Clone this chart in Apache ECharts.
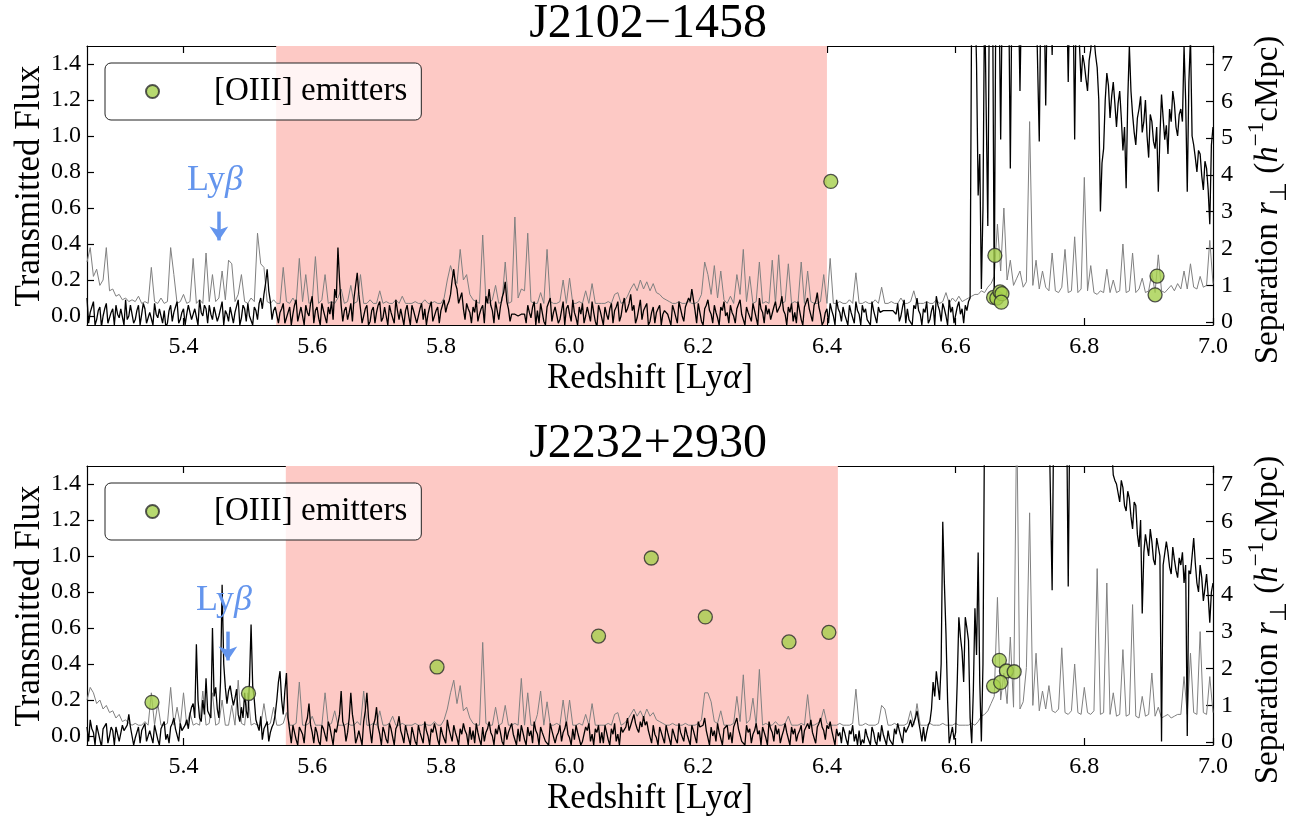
<!DOCTYPE html>
<html>
<head>
<meta charset="utf-8">
<script src="https://cdn.jsdelivr.net/npm/echarts@6/dist/echarts.min.js"></script>
<style>
  html, body { margin: 0; padding: 0; background: #ffffff; }
  #chart { width: 1296px; height: 819px; }
</style>
</head>
<body>
<div id="chart"></div>
<script>
// Redshift grids: flux is sampled twice as finely as its error
const Z_START = 5.25;
const FLUX_STEP = 0.0025;
const ERR_STEP = 0.005;

// J2102-1458: transmitted flux (black)
const fluxJ2102 = [
  0.10,-0.04, 0.02,0.05, 0.08,-0.05, -0.02,0.03, 0.05,-0.06, 0.00,0.04, 0.07,-0.04, -0.03,0.02, 0.04,-0.05, 0.06,0.01, -0.01,0.04, 0.03,-0.05, 0.09,-0.02, 0.00,0.06, 0.05,-0.04, -0.02,0.03, 0.06,-0.05, 0.01,0.07, 0.04,-0.04, -0.03,0.02,
  0.02,-0.05, 0.07,0.01, -0.01,0.04, 0.05,-0.04, 0.03,-0.06, -0.04,0.03, 0.06,-0.03, 0.02,0.05, 0.08,-0.04, -0.02,0.02, 0.04,-0.05, 0.01,0.06, 0.07,-0.02, -0.03,0.04, 0.05,-0.05, 0.09,0.02, 0.00,0.06, 0.04,-0.04, 0.06,0.01, -0.02,0.05,
  0.05,-0.03, 0.00,0.04, 0.08,-0.05, 0.03,0.01, -0.03,0.05, 0.06,-0.04, 0.02,0.03, 0.09,-0.05, -0.01,0.06, 0.04,-0.03, 0.07,0.00, 0.01,-0.05, 0.05,0.03, -0.02,0.07, 0.10,0.04, 0.12,0.18, 0.26,0.14, 0.08,-0.02, 0.03,0.05, 0.06,-0.04,
  0.02,0.04, 0.07,-0.04, -0.03,0.02, 0.05,-0.05, 0.01,0.06, 0.09,-0.03, -0.02,0.05, 0.04,-0.05, 0.06,0.02, 0.00,0.07, 0.11,-0.04, 0.03,0.05, -0.01,-0.05, 0.07,0.03, 0.02,-0.04, 0.05,0.01, 0.08,-0.02, 0.15,0.10, 0.38,0.20, 0.06,-0.03,
  0.03,0.05, -0.02,0.02, 0.07,-0.03, 0.10,0.17, 0.24,0.12, 0.04,-0.04, 0.00,0.04, 0.06,-0.05, -0.03,0.03, 0.05,-0.04, 0.02,0.06, 0.08,-0.03, -0.01,0.05, 0.04,-0.05, 0.06,0.02, 0.01,-0.04, 0.09,0.03, -0.02,0.04, 0.05,-0.05, 0.03,0.06,
  0.00,-0.05, 0.06,0.03, 0.02,-0.04, -0.03,0.04, 0.07,-0.02, 0.04,-0.05, 0.01,0.05, 0.08,-0.03, -0.02,0.03, 0.05,-0.04, 0.03,0.06, 0.09,0.02, 0.06,0.08, 0.12,0.20, 0.26,0.18, 0.15,0.07, 0.10,0.13, 0.04,-0.02, 0.07,0.04, 0.02,-0.04,
  0.05,0.02, 0.09,-0.03, 0.01,0.04, 0.06,-0.04, 0.11,0.07, 0.15,0.06, 0.03,-0.04, 0.08,0.03, -0.02,0.05, 0.10,0.13, 0.19,0.08, 0.04,-0.03, 0.01,0.01, 0.01,0.00, 0.00,0.01, 0.01,0.01, 0.01,-0.04, 0.06,0.02, -0.01,0.05, 0.08,-0.05,
  0.03,-0.04, 0.07,0.02, -0.03,-0.05, 0.05,0.04, 0.10,-0.03, 0.02,0.05, 0.06,-0.04, -0.02,0.03, 0.08,-0.05, 0.04,0.06, 0.01,-0.03, 0.09,0.02, -0.01,-0.05, 0.05,0.01, 0.07,-0.04, 0.00,0.05, 0.04,-0.03, 0.08,0.02, -0.03,-0.06, 0.06,0.03,
  0.02,-0.05, 0.05,0.01, -0.02,0.04, 0.07,-0.04, 0.03,0.05, 0.08,-0.03, 0.00,0.06, 0.10,0.02, 0.04,0.07, 0.12,0.03, 0.06,-0.04, -0.01,0.04, 0.09,-0.02, 0.03,0.05, 0.07,-0.05, -0.03,0.02, 0.05,-0.04, 0.02,0.04, 0.06,-0.05, 0.01,0.03,
  0.04,0.01, -0.02,-0.05, 0.06,0.03, 0.02,-0.04, 0.08,0.04, 0.00,-0.03, 0.05,0.06, 0.10,0.08, 0.15,0.09, 0.03,-0.04, 0.07,0.02, -0.03,-0.05, 0.04,0.06, 0.09,0.03, 0.01,-0.04, 0.06,0.02, -0.01,-0.05, 0.05,0.03, 0.08,0.00, 0.02,-0.04,
  0.06,0.02, 0.00,-0.04, 0.04,0.05, 0.09,0.01, -0.02,-0.05, 0.05,0.02, 0.03,-0.03, 0.07,0.03, -0.01,-0.05, 0.10,0.04, 0.02,-0.04, 0.06,0.01, 0.04,-0.02, -0.03,0.05, 0.08,0.02, 0.03,0.06, 0.11,0.03, 0.01,-0.05, 0.05,0.02, 0.07,-0.03,
  0.02,-0.04, 0.08,0.03, -0.02,-0.05, 0.05,0.06, 0.10,0.04, 0.03,-0.03, 0.06,0.08, 0.13,0.05, 0.01,-0.05, -0.03,0.02, 0.04,-0.04, 0.07,0.03, 0.00,-0.05, 0.09,0.04, 0.02,-0.03, 0.05,0.01, -0.02,-0.05, 0.06,0.02, 0.03,-0.04, 0.08,0.03,
  0.01,-0.05, 0.06,0.02, 0.04,-0.02, -0.03,-0.05, 0.08,0.03, 0.02,-0.04, 0.05,0.02, 0.03,0.03, 0.03,0.03, 0.04,0.03, 0.03,0.03, 0.02,0.01, 0.07,-0.03, 0.00,0.05, 0.09,-0.04, 0.04,-0.02, -0.02,-0.05, 0.06,0.04, 0.10,0.03, 0.01,-0.05,
  0.04,0.02, 0.08,-0.04, -0.02,0.03, 0.06,-0.05, 0.11,0.06, 0.03,-0.03, 0.07,0.04, 0.00,-0.05, 0.09,0.02, 0.05,-0.04, -0.03,0.05, 0.08,0.01, 0.04,-0.04, 0.06,0.03, 0.08,0.10, 1.80,1.80, 1.80,1.40, 0.67,0.90, 0.15,0.60, 1.80,1.80,
  0.50,1.80, 1.80,1.80, 0.10,1.80, 1.80,1.80, 0.98,1.80, 1.80,1.80, 1.80,1.80, 0.82,1.80, 1.80,1.80, 1.80,1.80, 1.25,1.80, 1.80,1.80, 1.80,1.60, 1.80,1.80, 1.80,1.80, 1.80,1.80, 0.97,1.80, 1.80,1.80, 1.17,1.80, 1.80,1.80,
  1.45,1.80, 1.80,1.80, 1.80,1.80, 1.80,1.80, 1.80,1.80, 1.30,1.80, 1.80,1.80, 0.98,1.80, 1.80,1.50, 1.30,1.45, 1.40,1.32, 1.25,1.42, 1.48,1.60, 1.55,1.45, 1.38,1.20, 0.58,0.85, 0.93,1.20, 1.35,1.28, 1.10,1.22, 1.30,1.18,
  1.05,1.18, 1.25,1.10, 0.92,1.05, 0.71,1.20, 1.50,1.25, 1.12,1.02, 0.95,1.10, 1.15,1.22, 1.02,1.08, 1.20,1.00, 0.88,1.12, 1.08,0.97, 0.93,1.05, 0.69,1.00, 1.23,1.10, 0.98,1.06, 0.90,1.15, 1.08,1.25, 1.18,1.05, 1.00,1.12,
  1.15,1.08, 1.50,1.20, 0.69,1.30, 1.55,1.00, 0.95,0.88, 0.80,0.92, 0.90,0.78, 0.70,0.86, 0.82,0.70, 0.51,0.95, 1.05
];
// J2102-1458: flux error (grey)
const errJ2102 = [
  0.30, 0.38, 0.22, 0.26, 0.17, 0.20, 0.38, 0.14, 0.15, 0.11, 0.12, 0.09, 0.10, 0.08, 0.09, 0.08, 0.11, 0.07, 0.08, 0.07,
  0.27, 0.08, 0.07, 0.10, 0.07, 0.08, 0.38, 0.23, 0.07, 0.08, 0.12, 0.07, 0.08, 0.32, 0.07, 0.09, 0.07, 0.35, 0.08, 0.23,
  0.08, 0.10, 0.25, 0.09, 0.31, 0.29, 0.08, 0.12, 0.23, 0.08, 0.07, 0.10, 0.08, 0.46, 0.29, 0.27, 0.08, 0.07, 0.09, 0.07,
  0.07, 0.27, 0.08, 0.07, 0.10, 0.07, 0.32, 0.08, 0.23, 0.07, 0.08, 0.33, 0.07, 0.09, 0.23, 0.07, 0.08, 0.07, 0.10, 0.15,
  0.07, 0.08, 0.17, 0.07, 0.08, 0.23, 0.07, 0.07, 0.09, 0.07, 0.07, 0.14, 0.07, 0.08, 0.07, 0.07, 0.09, 0.07, 0.11, 0.07,
  0.07, 0.07, 0.08, 0.07, 0.07, 0.09, 0.07, 0.07, 0.08, 0.07, 0.07, 0.10, 0.20, 0.28, 0.22, 0.18, 0.37, 0.20, 0.23, 0.12,
  0.09, 0.08, 0.07, 0.45, 0.08, 0.07, 0.09, 0.17, 0.07, 0.08, 0.30, 0.07, 0.08, 0.55, 0.10, 0.15, 0.14, 0.46, 0.08, 0.07,
  0.07, 0.13, 0.07, 0.37, 0.08, 0.07, 0.07, 0.08, 0.20, 0.07, 0.21, 0.07, 0.07, 0.08, 0.07, 0.14, 0.07, 0.18, 0.07, 0.07,
  0.07, 0.07, 0.08, 0.07, 0.12, 0.13, 0.07, 0.08, 0.11, 0.15, 0.18, 0.14, 0.20, 0.15, 0.19, 0.14, 0.18, 0.13, 0.12, 0.10,
  0.09, 0.08, 0.07, 0.07, 0.08, 0.07, 0.07, 0.08, 0.07, 0.07, 0.08, 0.12, 0.30, 0.23, 0.12, 0.28, 0.10, 0.25, 0.09, 0.07,
  0.11, 0.07, 0.23, 0.12, 0.37, 0.08, 0.22, 0.07, 0.08, 0.30, 0.07, 0.08, 0.07, 0.31, 0.07, 0.34, 0.07, 0.08, 0.29, 0.07,
  0.08, 0.07, 0.30, 0.07, 0.25, 0.08, 0.07, 0.07, 0.08, 0.23, 0.07, 0.32, 0.07, 0.07, 0.08, 0.07, 0.07, 0.09, 0.07, 0.24,
  0.07, 0.07, 0.08, 0.07, 0.07, 0.09, 0.07, 0.16, 0.07, 0.07, 0.08, 0.07, 0.07, 0.10, 0.07, 0.07, 0.08, 0.14, 0.07, 0.07,
  0.07, 0.08, 0.07, 0.07, 0.09, 0.07, 0.08, 0.13, 0.07, 0.10, 0.08, 0.11, 0.08, 0.09, 0.10, 0.11, 0.12, 0.12, 0.14, 0.13,
  0.16, 0.18, 0.22, 0.51, 0.25, 0.60, 0.20, 0.31, 0.17, 0.21, 0.25, 0.16, 0.19, 1.08, 0.17, 0.31, 0.15, 0.25, 0.16, 0.14,
  0.35, 0.14, 0.13, 0.16, 0.37, 0.13, 0.14, 0.44, 0.13, 0.15, 0.77, 0.14, 0.28, 0.13, 0.12, 0.14, 0.13, 0.26, 0.13, 0.20,
  0.13, 0.14, 0.40, 0.13, 0.14, 0.35, 0.13, 0.15, 0.21, 0.13, 0.14, 0.24, 0.13, 0.34, 0.14, 0.13, 0.15, 0.17, 0.14, 0.18,
  0.15, 0.25, 0.15, 0.29, 0.16, 0.15, 0.22, 0.16, 0.17, 0.42, 0.18
];

// J2232+2930: transmitted flux (black)
const fluxJ2232 = [
  0.05,-0.03, 0.09,0.04, 0.02,-0.05, 0.06,0.02, -0.02,-0.06, 0.04,0.03, 0.07,-0.04, 0.00,0.05, 0.03,-0.05, 0.05,0.01, -0.03,-0.04, 0.06,0.03, 0.02,0.06, 0.12,0.05, 0.04,-0.05, -0.01,0.02, 0.05,-0.04, 0.03,0.04, 0.07,-0.03, -0.02,0.03,
  0.03,-0.04, 0.06,0.02, -0.02,-0.05, 0.04,0.05, 0.08,-0.02, 0.01,-0.04, 0.05,0.07, 0.10,0.04, 0.03,-0.03, 0.07,0.03, 0.02,0.06, 0.09,0.04, 0.12,0.16, 0.18,0.10, 0.51,0.20, 0.10,0.08, 0.20,0.12, 0.32,0.14, 0.15,0.10, 0.60,0.22,
  0.27,0.15, 0.10,0.30, 0.84,0.40, 0.27,0.18, 0.25,0.28, 0.22,0.17, 0.21,0.26, 0.12,0.08, 0.16,0.10, 0.24,0.14, 0.10,0.30, 0.62,0.28, 0.20,0.09, 0.06,0.03, 0.11,-0.02, 0.04,0.06, 0.08,-0.03, 0.02,0.05, 0.07,0.12, 0.20,0.30,
  0.36,0.20, 0.12,0.25, 0.35,0.10, 0.03,-0.04, 0.06,0.02, -0.02,-0.05, 0.05,0.03, 0.01,-0.04, 0.07,0.10, 0.18,0.06, 0.02,-0.04, 0.05,0.02, -0.03,-0.05, 0.06,0.04, 0.03,-0.03, 0.08,0.05, 0.00,-0.05, 0.04,0.02, 0.07,0.12, 0.25,0.08,
  0.05,-0.03, 0.02,0.10, 0.24,0.12, 0.06,-0.04, -0.01,0.03, 0.04,-0.05, 0.08,0.14, 0.24,0.10, 0.03,-0.04, 0.06,0.09, 0.16,0.05, 0.01,-0.05, 0.05,0.02, -0.02,-0.04, 0.07,0.04, 0.03,-0.05, 0.04,0.06, 0.11,0.03, 0.00,-0.04, 0.06,0.02,
  0.02,-0.05, 0.05,0.01, -0.03,-0.05, 0.06,0.02, 0.03,-0.04, 0.08,0.03, 0.00,-0.05, 0.04,0.02, 0.07,0.03, -0.02,-0.05, 0.05,0.01, 0.02,-0.04, 0.09,0.04, 0.03,-0.03, 0.06,0.02, -0.01,-0.05, 0.04,0.01, 0.07,0.03, 0.01,-0.05, 0.05,-0.02,
  0.03,-0.04, 0.07,0.02, -0.02,-0.05, 0.05,-0.03, 0.02,0.04, 0.08,0.02, 0.00,-0.05, 0.04,0.01, 0.06,0.02, -0.03,-0.05, 0.05,-0.02, 0.02,0.03, 0.07,0.01, 0.01,-0.05, 0.04,-0.03, 0.06,0.02, -0.02,-0.05, 0.05,0.00, 0.03,-0.04, 0.08,0.03,
  0.01,-0.05, 0.05,0.02, 0.03,-0.03, -0.02,-0.05, 0.07,0.03, 0.04,-0.04, 0.00,0.02, 0.06,-0.03, 0.02,0.04, 0.08,0.01, -0.01,-0.05, 0.04,-0.02, 0.06,0.02, 0.02,-0.05, -0.03,0.01, 0.05,0.03, 0.07,-0.03, 0.01,-0.05, 0.04,0.02, 0.06,-0.04,
  0.02,-0.04, 0.06,0.02, -0.02,-0.05, 0.04,0.01, 0.07,-0.03, 0.01,-0.05, 0.05,0.02, 0.03,0.05, 0.10,0.03, 0.06,0.09, 0.12,0.07, 0.04,0.02, 0.08,0.05, 0.11,0.06, 0.08,0.03, 0.02,-0.04, 0.06,0.01, -0.01,-0.05, 0.05,0.02, 0.03,-0.04,
  0.06,0.02, 0.01,-0.05, 0.04,0.01, -0.02,-0.04, 0.07,0.02, 0.03,-0.03, 0.05,0.01, 0.00,-0.05, 0.06,0.03, 0.02,-0.04, 0.08,0.05, 0.04,0.06, 0.10,0.03, -0.01,-0.05, 0.05,0.00, 0.03,-0.03, 0.07,0.02, 0.01,-0.05, 0.04,0.03, 0.06,-0.02,
  0.02,-0.04, 0.05,0.06, 0.10,0.04, 0.03,-0.03, -0.02,-0.05, 0.06,0.02, 0.04,-0.04, 0.01,0.03, 0.07,0.01, 0.03,-0.05, 0.05,0.02, -0.01,-0.05, 0.08,0.04, 0.02,-0.03, 0.06,0.01, 0.04,-0.04, 0.00,0.03, 0.07,0.02, 0.03,-0.05, 0.05,0.01,
  0.04,-0.03, 0.01,0.03, 0.06,-0.04, 0.03,0.05, 0.07,0.04, 0.09,0.02, 0.02,-0.04, 0.05,0.07, 0.10,0.05, 0.03,-0.02, 0.06,0.04, 0.08,0.03, -0.01,-0.05, 0.04,0.00, 0.02,-0.04, 0.05,0.02, -0.02,-0.05, 0.03,0.01, 0.06,-0.03, 0.01,-0.05,
  0.03,-0.05, -0.02,-0.04, 0.04,0.00, 0.01,-0.05, 0.05,0.02, -0.03,-0.05, 0.02,-0.03, 0.06,0.01, 0.00,-0.05, 0.03,-0.02, -0.01,-0.05, 0.04,0.01, 0.07,0.03, 0.02,-0.04, 0.05,0.02, 0.01,0.06, 0.09,0.05, 0.04,0.10, 0.14,0.08, 0.03,-0.03,
  0.05,-0.03, 0.02,0.06, 0.08,0.15, 0.30,0.22, 0.36,0.28, 0.20,0.40, 1.19,0.85, 0.57,0.20, -0.04,-0.05, 0.05,-0.02, 0.02,0.30, 0.66,0.55, 0.47,0.30, 0.66,0.60, 0.53,0.10, -0.04,0.25, 0.71,0.45, 1.02,0.30, -0.03,0.40, 1.80,1.80,
  1.80,1.80, 1.80,1.80, 1.80,1.80, 1.80,1.80, 1.80,1.80, 1.80,1.80, 1.80,1.80, 1.80,1.80, 1.80,1.80, 1.80,1.80, 1.80,1.80, 1.80,1.80, 1.80,1.80, 1.80,1.80, 1.80,1.80, 1.80,1.80, 1.80,1.80, 1.80,1.80, 1.80,1.80, 1.80,1.80,
  0.81,1.80, 1.80,1.80, 1.80,1.80, 1.80,1.80, 1.80,1.80, 0.83,1.80, 1.80,1.80, 1.80,1.80, 1.80,1.80, 1.80,1.80, 1.80,1.80, 1.80,1.80, 1.80,1.80, 1.80,1.80, 1.80,1.80, 1.80,1.80, 1.80,1.80, 1.80,1.80, 1.80,1.60, 1.45,1.42,
  1.40,1.35, 1.30,1.42, 1.38,1.28, 1.25,1.36, 1.32,1.22, 1.15,1.30, 1.28,1.12, 1.05,1.20, 0.68,1.02, 1.12,1.06, 1.00,1.15, 1.08,0.98, 0.95,1.10, 1.05,1.00, -0.03,0.95, 0.96,1.08, 1.02,0.94, 0.90,1.05, 0.98,0.92, 0.88,0.99,
  0.95,1.02, 0.85,0.95, 0.00,0.92, 0.90,1.00, 1.10,0.96, 0.85,0.80, 0.95,0.88, 0.75,0.82, 0.90,0.78, 0.63,0.80, 0.85
];
// J2232+2930: flux error (grey)
const errJ2232 = [
  0.20, 0.27, 0.24, 0.18, 0.20, 0.15, 0.17, 0.13, 0.14, 0.10, 0.12, 0.08, 0.09, 0.07, 0.06, 0.07, 0.06, 0.06, 0.08, 0.06,
  0.24, 0.06, 0.18, 0.06, 0.06, 0.07, 0.27, 0.06, 0.16, 0.06, 0.24, 0.06, 0.13, 0.06, 0.07, 0.06, 0.25, 0.06, 0.07, 0.24,
  0.06, 0.07, 0.20, 0.06, 0.06, 0.17, 0.06, 0.31, 0.07, 0.06, 0.24, 0.06, 0.07, 0.06, 0.06, 0.18, 0.06, 0.07, 0.16, 0.06,
  0.06, 0.07, 0.13, 0.06, 0.06, 0.07, 0.30, 0.06, 0.06, 0.07, 0.11, 0.06, 0.06, 0.06, 0.24, 0.06, 0.07, 0.14, 0.06, 0.06,
  0.06, 0.07, 0.06, 0.06, 0.08, 0.06, 0.25, 0.06, 0.06, 0.07, 0.06, 0.14, 0.06, 0.06, 0.07, 0.11, 0.06, 0.06, 0.07, 0.06,
  0.06, 0.06, 0.07, 0.06, 0.06, 0.07, 0.06, 0.06, 0.08, 0.06, 0.06, 0.09, 0.15, 0.24, 0.31, 0.18, 0.28, 0.14, 0.16, 0.10,
  0.07, 0.06, 0.06, 0.52, 0.07, 0.06, 0.06, 0.16, 0.06, 0.07, 0.17, 0.06, 0.06, 0.07, 0.06, 0.32, 0.06, 0.24, 0.06, 0.06,
  0.12, 0.25, 0.06, 0.19, 0.06, 0.06, 0.07, 0.06, 0.20, 0.06, 0.20, 0.06, 0.06, 0.07, 0.06, 0.12, 0.06, 0.18, 0.06, 0.06,
  0.06, 0.06, 0.07, 0.06, 0.12, 0.13, 0.06, 0.07, 0.09, 0.12, 0.15, 0.11, 0.14, 0.10, 0.15, 0.11, 0.13, 0.09, 0.08, 0.07,
  0.06, 0.06, 0.07, 0.06, 0.06, 0.06, 0.07, 0.06, 0.06, 0.06, 0.07, 0.09, 0.24, 0.24, 0.19, 0.08, 0.07, 0.14, 0.06, 0.06,
  0.06, 0.07, 0.22, 0.08, 0.34, 0.07, 0.09, 0.21, 0.06, 0.37, 0.06, 0.07, 0.06, 0.06, 0.08, 0.06, 0.06, 0.07, 0.11, 0.06,
  0.06, 0.06, 0.07, 0.06, 0.23, 0.06, 0.06, 0.07, 0.08, 0.15, 0.07, 0.06, 0.06, 0.06, 0.07, 0.06, 0.06, 0.06, 0.07, 0.26,
  0.06, 0.06, 0.07, 0.06, 0.06, 0.06, 0.07, 0.17, 0.15, 0.06, 0.06, 0.07, 0.06, 0.06, 0.06, 0.07, 0.14, 0.06, 0.18, 0.06,
  0.06, 0.06, 0.07, 0.06, 0.06, 0.06, 0.07, 0.06, 0.06, 0.06, 0.07, 0.06, 0.06, 0.06, 0.06, 0.07, 0.06, 0.08, 0.11, 0.12,
  0.14, 0.18, 0.22, 0.77, 0.20, 0.35, 0.18, 0.55, 0.16, 1.80, 0.15, 0.19, 0.38, 1.24, 0.17, 0.46, 0.14, 0.25, 0.15, 0.28,
  0.14, 0.13, 0.15, 0.49, 0.13, 0.12, 0.14, 0.40, 0.13, 0.12, 0.27, 0.13, 0.12, 0.14, 0.93, 0.12, 0.13, 0.85, 0.12, 0.24,
  0.11, 0.12, 0.48, 0.11, 0.12, 0.73, 0.11, 0.10, 0.22, 0.11, 0.12, 0.35, 0.11, 0.16, 0.10, 0.11, 0.12, 0.10, 0.11, 0.12,
  0.12, 0.33, 0.12, 0.46, 0.13, 0.12, 0.58, 0.13, 0.12, 0.33, 0.13
];

// [OIII] emitters: redshift and transverse separation (h^-1 cMpc)
const emitZ_J2102 = [6.406, 6.661, 6.659, 6.664, 6.669, 6.672, 6.671, 6.913, 6.910];
const emitR_J2102 = [3.82, 1.81, 0.67, 0.65, 0.82, 0.77, 0.54, 1.25, 0.74];
const emitZ_J2232 = [5.351, 5.501, 5.794, 6.045, 6.127, 6.211, 6.341, 6.403, 6.668, 6.679, 6.691, 6.659, 6.670];
const emitR_J2232 = [1.08, 1.32, 2.04, 2.88, 5.00, 3.40, 2.72, 2.98, 2.22, 1.93, 1.91, 1.52, 1.62];

// Shaded redshift windows
const bandJ2102 = [5.544, 6.400];
const bandJ2232 = [5.559, 6.417];

// Ly-beta marker redshift in each panel
const lybZ = [5.455, 5.469];

// Tick values
const zTicks = [5.4, 5.6, 5.8, 6.0, 6.2, 6.4, 6.6, 6.8, 7.0];
const fluxTicks = [0.0, 0.2, 0.4, 0.6, 0.8, 1.0, 1.2, 1.4];
const sepTicks = [0, 1, 2, 3, 4, 5, 6, 7];

const SERIF = '"Liberation Serif", "Times New Roman", serif';
const LYB_COLOR = '#6495ed';
const EMIT_NAME = '[OIII] emitters';

function gridPairs(values, step) {
  return values.map((v, i) => [Z_START + i * step, v]);
}
function zipPairs(xs, ys) {
  return xs.map((x, i) => [x, ys[i]]);
}

const tickStyle = { color: '#000', width: 1.2 };
const labelFont = { fontFamily: SERIF, fontSize: 24, color: '#000' };

function xAxisCfg(gridIndex, position, showLabels) {
  return {
    type: 'value', gridIndex, position, min: 5.25, max: 7.0,
    axisLine: { show: true, onZero: false, lineStyle: tickStyle },
    axisTick: { show: true, inside: true, length: 7, customValues: zTicks, lineStyle: tickStyle },
    axisLabel: Object.assign({ show: showLabels, customValues: zTicks, margin: 10,
      formatter: v => v.toFixed(1) }, labelFont),
    splitLine: { show: false }
  };
}
function fluxAxisCfg(gridIndex) {
  return {
    type: 'value', gridIndex, position: 'left', min: -0.05, max: 1.5,
    axisLine: { show: true, onZero: false, lineStyle: tickStyle },
    axisTick: { show: true, inside: true, length: 7, customValues: fluxTicks, lineStyle: tickStyle },
    axisLabel: Object.assign({ customValues: fluxTicks, margin: 6,
      formatter: v => v.toFixed(1) }, labelFont),
    splitLine: { show: false }
  };
}
function sepAxisCfg(gridIndex) {
  return {
    type: 'value', gridIndex, position: 'right', min: -0.08, max: 7.5,
    axisLine: { show: true, onZero: false, lineStyle: tickStyle },
    axisTick: { show: true, inside: true, length: 7, customValues: sepTicks, lineStyle: tickStyle },
    axisLabel: Object.assign({ customValues: sepTicks, margin: 8,
      formatter: v => String(Math.round(v)) }, labelFont),
    splitLine: { show: false }
  };
}

function panelSeries(xIdx, yFluxIdx, ySepIdx, flux, err, band, lyb, emitZ, emitR) {
  return [
    {
      type: 'line', name: 'error', xAxisIndex: xIdx, yAxisIndex: yFluxIdx,
      data: gridPairs(err, ERR_STEP), showSymbol: false, symbol: 'none', silent: true, z: 2,
      lineStyle: { color: '#808080', width: 1 },
      markArea: {
        silent: true, z: 1,
        itemStyle: { color: '#fdc9c5', opacity: 1 },
        data: [[{ xAxis: band[0] }, { xAxis: band[1] }]]
      }
    },
    {
      type: 'line', name: 'flux', xAxisIndex: xIdx, yAxisIndex: yFluxIdx,
      data: gridPairs(flux, FLUX_STEP), showSymbol: false, symbol: 'none', silent: true, z: 3,
      lineStyle: { color: '#000000', width: 1.3 },
      markPoint: {
        silent: true, symbol: 'circle', symbolSize: 1,
        itemStyle: { color: 'rgba(0,0,0,0)' },
        label: {
          show: true, position: 'inside', formatter: '{a|Ly}{b|β}',
          rich: {
            a: { fontFamily: SERIF, fontSize: 36, color: LYB_COLOR },
            b: { fontFamily: SERIF, fontSize: 36, fontStyle: 'italic', color: LYB_COLOR }
          }
        },
        data: [{ coord: [lyb - 0.006, 0.755] }]
      },
      markLine: {
        silent: true, symbol: ['none', 'arrow'], symbolSize: 14,
        lineStyle: { color: LYB_COLOR, width: 3.5, type: 'solid' },
        label: { show: false },
        data: [[{ coord: [lyb, 0.58] }, { coord: [lyb, 0.42] }]]
      }
    },
    {
      type: 'scatter', name: EMIT_NAME, xAxisIndex: xIdx, yAxisIndex: ySepIdx,
      data: zipPairs(emitZ, emitR), symbol: 'circle', symbolSize: 14, z: 6, silent: true,
      itemStyle: { color: '#a5cf4c', borderColor: '#2a2a2a', borderWidth: 1.3 }
    }
  ];
}

function legendCfg(top) {
  return {
    data: [EMIT_NAME], left: 105, top, orient: 'horizontal', selectedMode: false, z: 20,
    itemWidth: 13, itemHeight: 13, padding: [12, 14, 12, 40],
    backgroundColor: 'rgba(255,255,255,0.8)', borderColor: '#222', borderWidth: 1, borderRadius: 6,
    formatter: name => '{g| }{t|' + name + '}',
    textStyle: {
      color: '#000',
      rich: {
        g: { width: 50, fontSize: 12 },
        t: { fontFamily: SERIF, fontSize: 33, lineHeight: 33, color: '#000' }
      }
    }
  };
}

function textEl(x, y, rich, fmt, rotation) {
  return {
    type: 'text', x, y, rotation: rotation || 0, z: 100, silent: true,
    style: { text: fmt, rich, align: 'center', verticalAlign: 'middle', fill: '#000' }
  };
}

const titleRich = { t: { fontFamily: SERIF, fontSize: 48, fill: '#000' } };
const xLabelRich = {
  n: { fontFamily: SERIF, fontSize: 35, fill: '#000' },
  i: { fontFamily: SERIF, fontSize: 35, fontStyle: 'italic', fill: '#000' }
};
const yLabelRich = { n: { fontFamily: SERIF, fontSize: 35, fill: '#000' } };
const sepLabelRich = {
  n: { fontFamily: SERIF, fontSize: 33, fill: '#000', lineHeight: 46, verticalAlign: 'middle' },
  i: { fontFamily: SERIF, fontSize: 33, fontStyle: 'italic', fill: '#000', lineHeight: 46, verticalAlign: 'middle' },
  sub: { fontFamily: SERIF, fontSize: 23, fill: '#000', lineHeight: 46, verticalAlign: 'bottom' },
  sup: { fontFamily: SERIF, fontSize: 23, fill: '#000', lineHeight: 46, verticalAlign: 'top' }
};
const sepText = '{n|Separation }{i|r}{sub|⊥}{n| (}{i|h}{sup|−1}{n|cMpc)}';
const xText = '{n|Redshift [Ly}{i|α}{n|]}';

const chart = echarts.init(document.getElementById('chart'), null, { renderer: 'canvas' });
chart.setOption({
  animation: false,
  backgroundColor: '#ffffff',
  grid: [
    { left: 87, top: 46, width: 1126, height: 279, containLabel: false },
    { left: 87, top: 466, width: 1126, height: 279, containLabel: false }
  ],
  xAxis: [
    xAxisCfg(0, 'bottom', true), xAxisCfg(0, 'top', false),
    xAxisCfg(1, 'bottom', true), xAxisCfg(1, 'top', false)
  ],
  yAxis: [fluxAxisCfg(0), sepAxisCfg(0), fluxAxisCfg(1), sepAxisCfg(1)],
  legend: [legendCfg(63), legendCfg(483)],
  series: [
    ...panelSeries(0, 0, 1, fluxJ2102, errJ2102, bandJ2102, lybZ[0], emitZ_J2102, emitR_J2102),
    ...panelSeries(2, 2, 3, fluxJ2232, errJ2232, bandJ2232, lybZ[1], emitZ_J2232, emitR_J2232)
  ],
  graphic: [
    textEl(648, 24, titleRich, '{t|J2102−1458}'),
    textEl(648, 444, titleRich, '{t|J2232+2930}'),
    textEl(650, 379, xLabelRich, xText),
    textEl(650, 799, xLabelRich, xText),
    textEl(30, 186, yLabelRich, '{n|Transmitted Flux}', Math.PI / 2),
    textEl(30, 606, yLabelRich, '{n|Transmitted Flux}', Math.PI / 2),
    textEl(1268, 200, sepLabelRich, sepText, Math.PI / 2),
    textEl(1268, 620, sepLabelRich, sepText, Math.PI / 2)
  ]
});
</script>
</body>
</html>
